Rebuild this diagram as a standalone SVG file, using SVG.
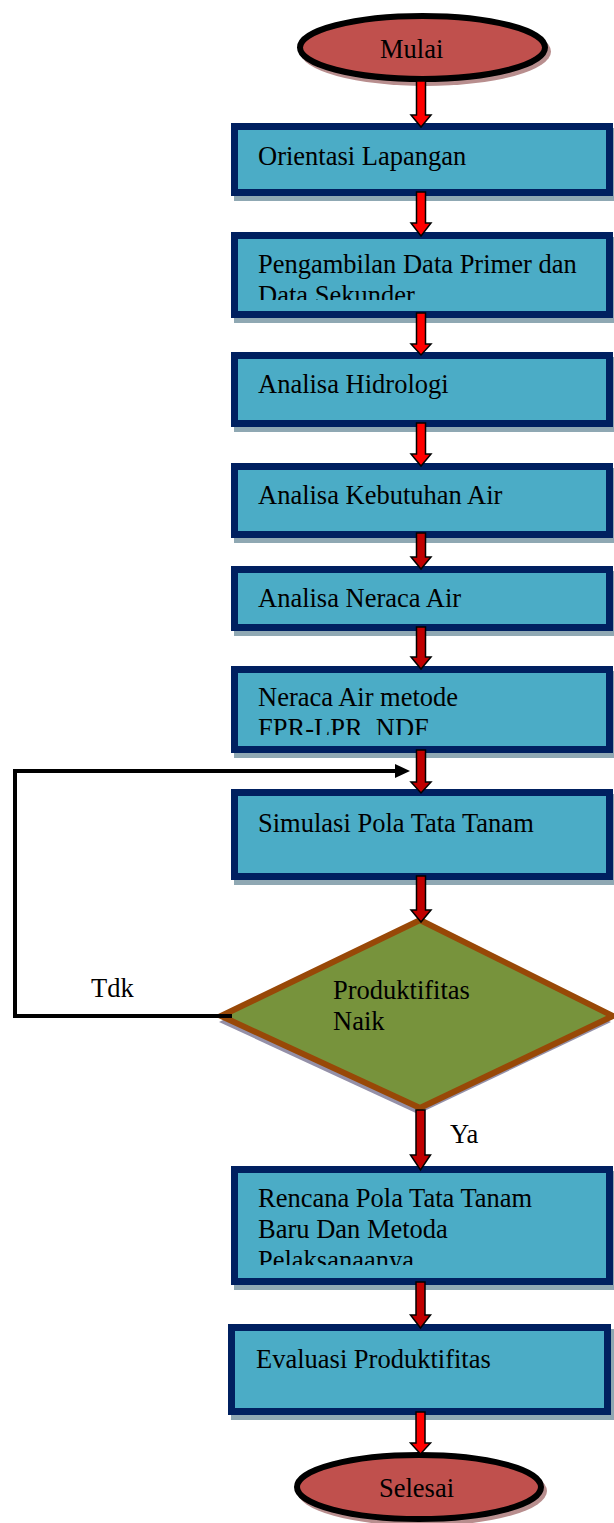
<svg xmlns="http://www.w3.org/2000/svg" width="614" height="1523" viewBox="0 0 614 1523">
<style>
.box{fill:#4BACC6;stroke:#002060;stroke-width:7}
.bsh{fill:#8FA8B3}
.term{fill:#C0504D;stroke:#000;stroke-width:6}
.tsh{fill:#B88E8E}
.t{font-family:"Liberation Serif","Times New Roman",serif;font-size:26.5px;fill:#000}
.ra{fill:#FF0000;stroke:#000;stroke-width:1.5;stroke-linejoin:miter}
.rd{fill:#C00000;stroke:#000;stroke-width:1.5;stroke-linejoin:miter}
.loop{fill:none;stroke:#000;stroke-width:4;stroke-linejoin:miter}
</style>
<defs>
<clipPath id="c2"><rect x="231" y="232" width="382" height="68"/></clipPath>
<clipPath id="c6"><rect x="231" y="666" width="382" height="69"/></clipPath>
<clipPath id="c8"><rect x="231" y="1166" width="382" height="99"/></clipPath>
</defs>
<rect width="614" height="1523" fill="#fff"/>

<g id="mulai">
<ellipse class="tsh" cx="425.5" cy="51.5" rx="125.5" ry="34.5"/>
<ellipse class="term" cx="422.5" cy="47.5" rx="122.5" ry="31.5"/>
<text class="t" x="380" y="58">Mulai</text>
</g>

<g id="orientasi">
<rect class="bsh" x="234" y="128" width="382" height="73"/>
<rect class="box" x="234.5" y="126.5" width="375" height="66"/>
<text class="t" x="258" y="165">Orientasi Lapangan</text>
</g>

<g id="pengambilan">
<rect class="bsh" x="234" y="237" width="382" height="86"/>
<rect class="box" x="234.5" y="235.5" width="375" height="79"/>
<g clip-path="url(#c2)">
<text class="t" x="258" y="273">Pengambilan Data Primer dan</text>
<text class="t" x="258" y="304">Data Sekunder</text>
</g>
</g>

<g id="hidrologi">
<rect class="bsh" x="234" y="357" width="382" height="75"/>
<rect class="box" x="234.5" y="355.5" width="375" height="68"/>
<text class="t" x="258" y="393">Analisa Hidrologi</text>
</g>

<g id="kebutuhan">
<rect class="bsh" x="234" y="468" width="382" height="75"/>
<rect class="box" x="234.5" y="466.5" width="375" height="68"/>
<text class="t" x="258" y="504">Analisa Kebutuhan Air</text>
</g>

<g id="neraca">
<rect class="bsh" x="234" y="571" width="382" height="65"/>
<rect class="box" x="234.5" y="569.5" width="375" height="58"/>
<text class="t" x="258" y="607">Analisa Neraca Air</text>
</g>

<g id="neraca-metode">
<rect class="bsh" x="234" y="671" width="382" height="87"/>
<rect class="box" x="234.5" y="669.5" width="375" height="80"/>
<g clip-path="url(#c6)">
<text class="t" x="258" y="706">Neraca Air metode</text>
<text class="t" x="258" y="737" xml:space="preserve">FPR-LPR  NDF</text>
</g>
</g>

<g id="simulasi">
<rect class="bsh" x="234" y="794" width="382" height="91"/>
<rect class="box" x="234.5" y="792.5" width="375" height="84"/>
<text class="t" x="258" y="832">Simulasi Pola Tata Tanam</text>
</g>

<g id="keputusan">
<polygon points="418,926 611,1022 418,1114 219,1022" fill="#9490A8"/>
<polygon points="420,920 613,1016 420,1108 221,1016" fill="#77933C" stroke="#984807" stroke-width="6" stroke-linejoin="miter"/>
<text class="t" x="333" y="999">Produktifitas</text>
<text class="t" x="333" y="1030">Naik</text>
</g>

<g id="rencana">
<rect class="bsh" x="234" y="1171" width="382" height="119"/>
<rect class="box" x="234.5" y="1169.5" width="375" height="112"/>
<g clip-path="url(#c8)">
<text class="t" x="258" y="1207">Rencana Pola Tata Tanam</text>
<text class="t" x="258" y="1238">Baru Dan Metoda</text>
<text class="t" x="258" y="1269">Pelaksanaanya</text>
</g>
</g>

<g id="evaluasi">
<rect class="bsh" x="231" y="1329" width="383" height="91"/>
<rect class="box" x="231.5" y="1327.5" width="376" height="84"/>
<text class="t" x="256" y="1368">Evaluasi Produktifitas</text>
</g>

<g id="selesai">
<ellipse class="tsh" cx="422" cy="1491" rx="125" ry="35"/>
<ellipse class="term" cx="419" cy="1487" rx="122" ry="32"/>
<text class="t" x="379" y="1497">Selesai</text>
</g>

<g id="connectors">
<path class="ra" d="M416.5,81 H425.5 V115 H431 L421,127 L411,115 H416.5 Z"/>
<path class="ra" d="M416.5,192 H425.5 V223 H431 L421,236 L411,223 H416.5 Z"/>
<path class="ra" d="M416.5,313 H425.5 V344 H431 L421,355 L411,344 H416.5 Z"/>
<path class="ra" d="M416.5,423 H425.5 V454 H431 L421,466 L411,454 H416.5 Z"/>
<path class="rd" d="M416.5,533 H425.5 V557 H431 L421,569 L411,557 H416.5 Z"/>
<path class="rd" d="M416.5,627 H425.5 V657 H431 L421,669 L411,657 H416.5 Z"/>
<path class="rd" d="M416.5,750 H425.5 V782 H431 L421,793 L411,782 H416.5 Z"/>
<path class="rd" d="M416.5,876 H425.5 V910 H431 L421,922 L411,910 H416.5 Z"/>
<path class="rd" d="M416,1110 H425 V1155 H430.5 L420.5,1170 L410.5,1155 H416 Z"/>
<path class="rd" d="M416,1282 H425 V1315 H430.5 L420.5,1328 L410.5,1315 H416 Z"/>
<path class="ra" d="M416,1412 H425 V1443 H430.5 L420.5,1454 L410.5,1443 H416 Z"/>
<polyline class="loop" points="232,1016 15,1016 15,771 397,771"/>
<polygon points="395,764 410,771 395,778" fill="#000"/>
<text class="t" x="91" y="997">Tdk</text>
<text class="t" x="450" y="1143">Ya</text>
</g>
</svg>
